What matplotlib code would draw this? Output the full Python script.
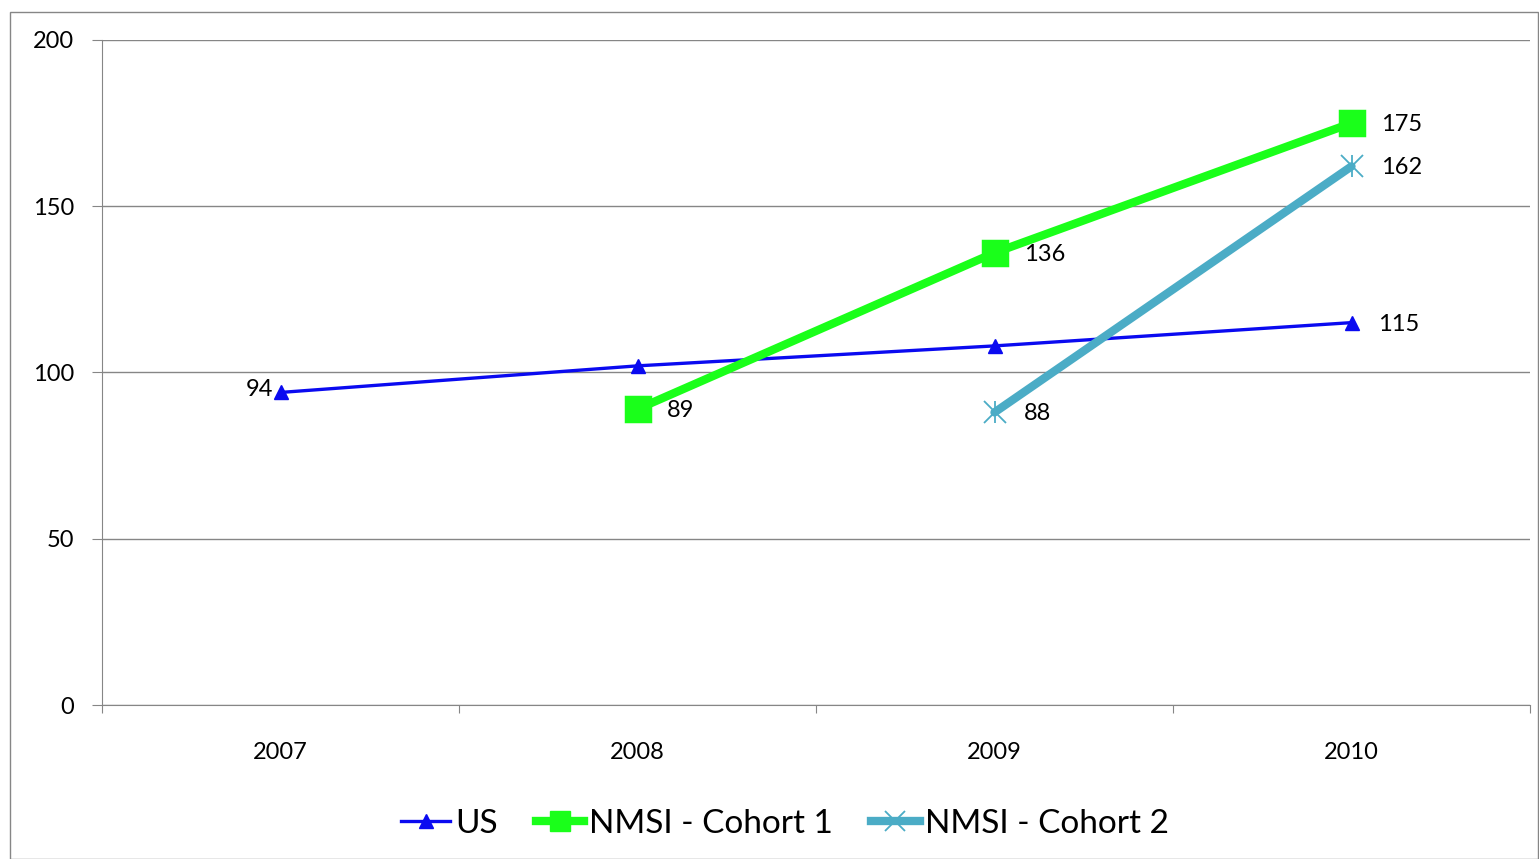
import matplotlib
matplotlib.use("Agg")
import matplotlib.pyplot as plt
from matplotlib.lines import Line2D
from matplotlib.patches import Rectangle

plt.rcParams['font.family'] = ['Lato', 'DejaVu Sans']

years = ["2007", "2008", "2009", "2010"]
us = [94, 102, 108, 115]
cohort1 = [None, 89, 136, 175]
cohort2 = [None, None, 88, 162]

c_us = "#0A0AF0"
c_c1 = "#1AFF1A"
c_c2 = "#4BACC6"
grid_c = "#868686"

fig = plt.figure(figsize=(15.39, 8.59), dpi=100)
W, H = 1539, 859
# outer chart border
fig.patches.append(Rectangle((10 / W, 0), (1538 - 10) / W, (859 - 12) / H,
                             transform=fig.transFigure, fill=False,
                             edgecolor=grid_c, linewidth=1.0))

ax = fig.add_axes([102 / W, 1 - 705 / H, (1530 - 102) / W, (705 - 40) / H])
ax.set_xlim(-0.5, 3.5)
ax.set_ylim(0, 200)

xs = list(range(len(years)))

ax.plot(xs, us, color=c_us, lw=2.4, marker='^', ms=10, zorder=3)

x1 = [x for x, v in zip(xs, cohort1) if v is not None]
y1 = [v for v in cohort1 if v is not None]
ax.plot(x1, y1, color=c_c1, lw=6, marker='s', ms=17, mew=2.5,
        mec=c_c1, zorder=4, solid_capstyle='round')

x2 = [x for x, v in zip(xs, cohort2) if v is not None]
y2 = [v for v in cohort2 if v is not None]
ax.plot(x2, y2, color=c_c2, lw=6, zorder=4, solid_capstyle='round')
ax.plot(x2, y2, ls='none', marker='x', ms=16, mew=1.3, color=c_c2, zorder=5)
ax.plot(x2, y2, ls='none', marker='|', ms=16, mew=1.3, color=c_c2, zorder=5)

fs = 17
# data labels
ax.annotate(str(us[0]), (xs[0], us[0]), xytext=(-5, 2), textcoords='offset points',
            ha='right', va='center', fontsize=fs)
ax.annotate(str(us[3]), (xs[3], us[3]), xytext=(19, -1), textcoords='offset points',
            ha='left', va='center', fontsize=fs)
for x, v in zip(x1, y1):
    ax.annotate(str(v), (x, v), xytext=(21, -1), textcoords='offset points',
                ha='left', va='center', fontsize=fs)
for x, v in zip(x2, y2):
    ax.annotate(str(v), (x, v), xytext=(21, -1), textcoords='offset points',
                ha='left', va='center', fontsize=fs)

ax.set_yticks([0, 50, 100, 150, 200])
ax.yaxis.grid(True, color=grid_c, lw=1.0)
ax.set_axisbelow(True)
ax.set_xticks([-0.5, 0.5, 1.5, 2.5, 3.5])
ax.set_xticklabels([])
ax.set_xticks(xs, minor=True)
ax.set_xticklabels(years, minor=True)
ax.tick_params(axis='x', which='minor', length=0, pad=26.5, labelsize=fs)
ax.tick_params(axis='x', which='major', length=6, color=grid_c, direction='out')
ax.tick_params(axis='y', length=7, color=grid_c, labelsize=fs, pad=13)
for s in ['top', 'right']:
    ax.spines[s].set_visible(False)
for s in ['left', 'bottom']:
    ax.spines[s].set_color(grid_c)

handles = [
    Line2D([], [], color=c_us, lw=2.4, marker='^', ms=10),
    Line2D([], [], color=c_c1, lw=6, marker='s', ms=15),
    Line2D([], [], color=c_c2, lw=6, marker='x', ms=14, mew=1.3),
]
fig.legend(handles, ["US", "NMSI - Cohort 1", "NMSI - Cohort 2"],
           loc='center', bbox_to_anchor=(785 / W, 1 - 824 / H), ncol=3,
           frameon=False, fontsize=24, handlelength=1.45, handletextpad=0.15,
           columnspacing=1.15)

fig.savefig("out.png", dpi=100)
